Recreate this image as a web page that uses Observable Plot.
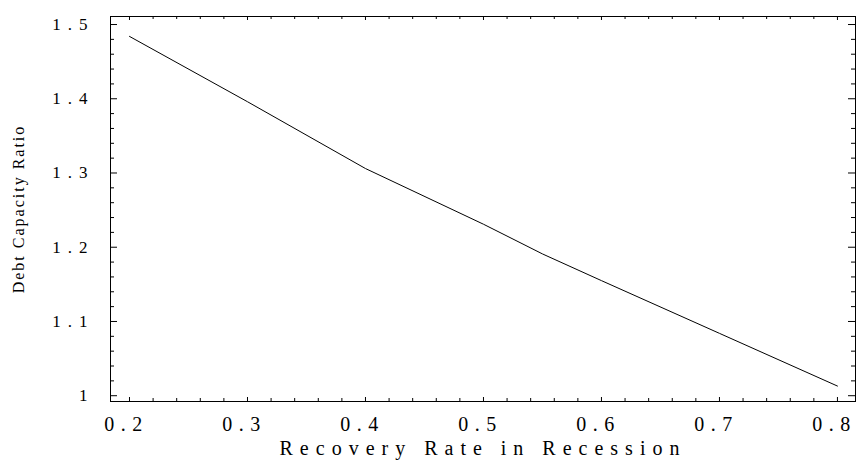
<!DOCTYPE html>
<html>
<head>
<meta charset="utf-8">
<script src="https://cdn.jsdelivr.net/npm/d3@7"></script>
<script src="https://cdn.jsdelivr.net/npm/@observablehq/plot@0.6"></script>
<style>
  html, body { margin: 0; padding: 0; background: #fff; }
  #chart svg { display: block; }
</style>
</head>
<body>
<div id="chart"></div>
<script>
// Data
const recoveryRate = [0.2, 0.3, 0.4, 0.5, 0.55, 0.6, 0.7, 0.8];
const debtCapacityRatio = [1.484, 1.396, 1.306, 1.231, 1.191, 1.155, 1.084, 1.013];

// Axis ticks
const xTickValues = [0.2, 0.3, 0.4, 0.5, 0.6, 0.7, 0.8];
const xTickLabels = ["0.2", "0.3", "0.4", "0.5", "0.6", "0.7", "0.8"];
const yTickValues = [1, 1.1, 1.2, 1.3, 1.4, 1.5];
const yTickLabels = ["1", "1.1", "1.2", "1.3", "1.4", "1.5"];
const xMinorTicks = d3.range(0, 31).map(i => +(0.2 + i * 0.02).toFixed(2)).filter(v => !xTickValues.includes(v));
const yMinorTicks = d3.range(0, 26).map(i => +(1 + i * 0.02).toFixed(2)).filter(v => !yTickValues.includes(v));

const xLabel = "Recovery Rate in Recession";
const yLabel = "Debt Capacity Ratio";

const W = 857, H = 464;
const mL = 110, mR = 2, mT = 16, mB = 63;
const plotH = H - mT - mB;
const plotW = W - mL - mR;

const rows = recoveryRate.map((x, i) => ({x, y: debtCapacityRatio[i]}));
const xTicks = xTickValues.map((v, i) => ({v, label: xTickLabels[i]}));
const yTicks = yTickValues.map((v, i) => ({v, label: yTickLabels[i]}));

const tickStyle = {stroke: "#000", strokeWidth: 1};

const chart = Plot.plot({
  width: W,
  height: H,
  marginLeft: mL,
  marginRight: mR,
  marginTop: mT,
  marginBottom: mB,
  style: {fontFamily: "'Liberation Serif', 'DejaVu Serif', serif", color: "#000", background: "#fff"},
  x: {domain: [0.1839, 0.8153], axis: null},
  y: {domain: [0.9922, 1.5108], axis: null},
  marks: [
    // inward ticks, bottom and top
    Plot.ruleX(xTickValues, {x: d => d, insetTop: plotH - 4, ...tickStyle}),
    Plot.ruleX(xMinorTicks, {x: d => d, insetTop: plotH - 3, ...tickStyle}),
    Plot.ruleX(xTickValues, {x: d => d, insetBottom: plotH - 4, ...tickStyle}),
    Plot.ruleX(xMinorTicks, {x: d => d, insetBottom: plotH - 3, ...tickStyle}),
    // inward ticks, left and right
    Plot.ruleY(yTickValues, {y: d => d, insetRight: plotW - 7, ...tickStyle}),
    Plot.ruleY(yMinorTicks, {y: d => d, insetRight: plotW - 4, ...tickStyle}),
    Plot.ruleY(yTickValues, {y: d => d, insetLeft: plotW - 7, ...tickStyle}),
    Plot.ruleY(yMinorTicks, {y: d => d, insetLeft: plotW - 4, ...tickStyle}),
    Plot.line(rows, {x: "x", y: "y", stroke: "#000", strokeWidth: 1}),
    Plot.frame({stroke: "#000", strokeWidth: 1}),
    Plot.text(xTicks, {x: "v", text: "label", frameAnchor: "bottom", dy: 23, dx: -3,
      lineAnchor: "middle", textAnchor: "middle", fontSize: 20, fill: "#000"}),
    Plot.text(yTicks, {y: "v", text: "label", frameAnchor: "left", dx: -16,
      lineAnchor: "middle", textAnchor: "end", fontSize: 17, fill: "#000"}),
    Plot.text([xLabel], {text: d => d, frameAnchor: "bottom", dy: 47,
      lineAnchor: "middle", textAnchor: "middle", fontSize: 20, fill: "#000"}),
    Plot.text([yLabel], {text: d => d, frameAnchor: "left", dx: -92, rotate: -90,
      lineAnchor: "middle", textAnchor: "middle", fontSize: 16, fill: "#000"})
  ]
});

// letter spacing per text mark (in mark order)
const spacings = ["6.5px", "7px", "7px", "2px"];
d3.select(chart).selectAll("g[aria-label='text']").each(function(_, i) {
  d3.select(this).selectAll("text").style("letter-spacing", spacings[i]);
});

document.getElementById("chart").appendChild(chart);
</script>
</body>
</html>
